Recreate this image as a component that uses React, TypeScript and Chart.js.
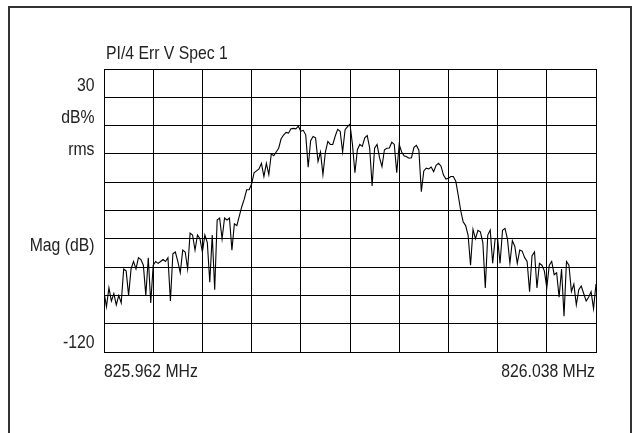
import React, { useEffect, useRef } from 'react';
import { Chart, registerables } from 'chart.js';

Chart.register(...registerables);

const TITLE = 'PI/4 Err V Spec 1';
const Y_LABELS = ['30', 'dB%', 'rms', 'Mag (dB)', '-120'];
const X_LABELS = ['825.962 MHz', '826.038 MHz'];
const Y_MIN = -120;
const Y_MAX = 30;
const Y_STEP = 15;
const X_DIVISIONS = 10;

// Error vector magnitude spectrum (dB% rms), evenly spaced across the 76 kHz span
const MAG_DB = [
  -88, -96, -86, -93, -89, -95, -90, -94, -76, -77,
  -90, -76, -72, -76, -70, -71, -74, -90, -70, -94,
  -74, -72, -73, -72, -71, -72, -70, -93, -68, -67,
  -72, -78, -66, -67, -76, -57, -58, -66, -58, -60,
  -67, -58, -62, -83, -58, -87, -50, -49, -60, -49,
  -50, -49, -66, -52, -53, -48, -43, -39, -34, -34,
  -31, -25, -24, -23, -20, -27, -20, -26, -15, -16,
  -14, -12, -7, -5, -3.6, -4, -1.7, -1.5, -1.7, -0.3,
  -3, -2.5, -4.9, -22, -8, -5.8, -6.5, -19, -14, -26,
  -14, -8.4, -10, -10, -5.5, -2, -3, -14, -2.2, -0.5,
  0.8, -10, -25, -12.8, -10, -11, -6.5, -5.3, -12, -32,
  -12, -10, -17, -21.7, -12.8, -12, -11.9, -8.8, -10, -25,
  -10, -14, -16, -16.5, -17.3, -17, -11.5, -10.5, -13, -35,
  -24, -22.6, -23, -22, -24.4, -21, -20, -21.5, -26.2, -28.3,
  -27.9, -27, -27, -29.5, -37, -45, -51, -53, -58, -74,
  -55, -60, -55.5, -56.3, -62, -86, -58, -55.4, -73, -60,
  -60, -73, -55.5, -54.5, -60, -73, -61, -64, -73, -66,
  -66.5, -70, -72, -88, -69, -67, -86, -73, -74, -77,
  -86, -74, -72, -79, -78, -91, -76, -101, -72, -74,
  -88, -84, -95, -87, -85, -89, -93, -91, -88, -97,
  -84,
];

const FONT = '19px "Liberation Sans", Arial, sans-serif';
const TEXT_COLOR = '#222';
const NARROW = 0.83;

function narrowText(ctx: CanvasRenderingContext2D, text: string, x: number, y: number, align: 'left' | 'right') {
  ctx.save();
  ctx.translate(x, y);
  ctx.scale(NARROW, 1);
  ctx.textAlign = align;
  ctx.fillText(text, 0, 0);
  ctx.restore();
}

const labelPlugin = {
  id: 'instrumentLabels',
  afterDraw(chart: any) {
    const { ctx, chartArea: a } = chart;
    ctx.save();
    ctx.fillStyle = TEXT_COLOR;
    ctx.font = FONT;
    ctx.textBaseline = 'alphabetic';
    narrowText(ctx, TITLE, a.left + 2, a.top - 10, 'left');
    const yOffsets = [22.4, 54, 85.7, 182.4, 279];
    Y_LABELS.forEach((t, k) => narrowText(ctx, t, a.left - 9.5, a.top + yOffsets[k], 'right'));
    narrowText(ctx, X_LABELS[0], a.left, a.bottom + 25.3, 'left');
    narrowText(ctx, X_LABELS[1], a.right - 1, a.bottom + 25.3, 'right');
    ctx.restore();
  },
};

export default function App() {
  const canvasRef = useRef<HTMLCanvasElement | null>(null);

  useEffect(() => {
    const canvas = canvasRef.current;
    if (!canvas) return;
    const n = MAG_DB.length;
    const chart = new Chart(canvas, {
      type: 'line',
      data: {
        datasets: [
          {
            data: MAG_DB.map((v, i) => ({ x: i, y: v })),
            borderColor: '#000',
            borderWidth: 1.1,
            pointRadius: 0,
            tension: 0,
          },
        ],
      },
      options: {
        animation: false,
        responsive: false,
        events: [],
        layout: { padding: { left: 104, right: 41, top: 69, bottom: 81 } },
        plugins: { legend: { display: false }, tooltip: { enabled: false }, title: { display: false } },
        scales: {
          x: {
            type: 'linear',
            min: 0,
            max: n - 1,
            ticks: { display: false, stepSize: (n - 1) / X_DIVISIONS },
            grid: { color: '#000', lineWidth: 1, drawTicks: false },
            border: { color: '#000', width: 1 },
          },
          y: {
            type: 'linear',
            min: Y_MIN,
            max: Y_MAX,
            ticks: { display: false, stepSize: Y_STEP },
            grid: { color: '#000', lineWidth: 1, drawTicks: false },
            border: { color: '#000', width: 1 },
          },
        },
      },
      plugins: [labelPlugin],
    });
    return () => chart.destroy();
  }, []);

  return (
    <div style={{ position: 'fixed', left: 0, top: 0, width: 637, height: 433, overflow: 'hidden', background: '#fff' }}>
      <div
        style={{
          position: 'absolute',
          left: 8,
          top: 6,
          width: 624,
          height: 520,
          boxSizing: 'border-box',
          borderLeft: '2px solid #333',
          borderTop: '2px solid #333',
          borderRight: '2px solid #333',
        }}
      />
      <canvas ref={canvasRef} width={637} height={433} style={{ position: 'absolute', left: 0, top: 0, width: 637, height: 433 }} />
    </div>
  );
}
